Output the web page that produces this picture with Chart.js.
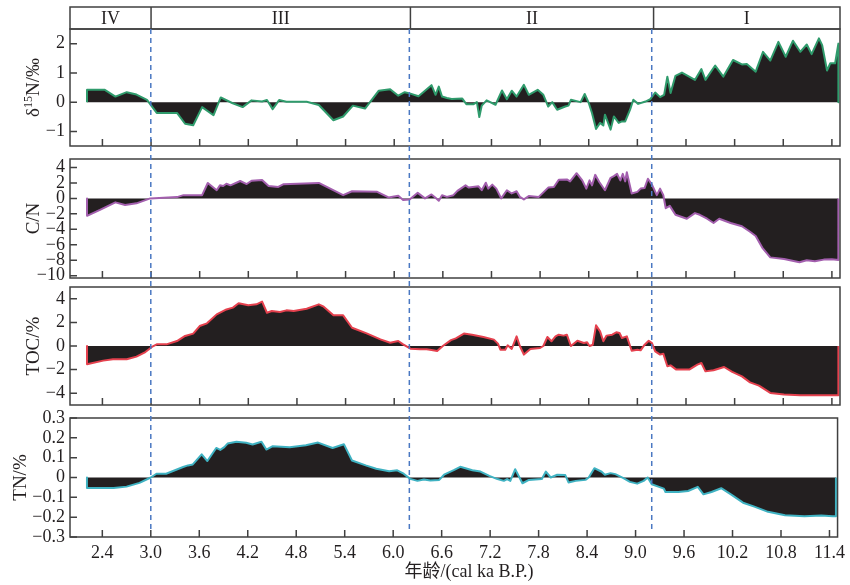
<!DOCTYPE html>
<html>
<head>
<meta charset="utf-8">
<title>δ15N C/N TOC TN</title>
<script src="https://cdn.jsdelivr.net/npm/chart.js@4.4.1/dist/chart.umd.min.js"></script>
<style>
    body { margin: 0; background: #fff; }
    #wrap { position: relative; width: 850px; height: 585px; }
    #wrap canvas { position: absolute; left: 0; top: 0; }
</style>
</head>
<body>
<div id="wrap">
    <canvas id="d15nCanvas" width="850" height="585"></canvas>
    <canvas id="cnCanvas" width="850" height="585"></canvas>
    <canvas id="tocCanvas" width="850" height="585"></canvas>
    <canvas id="tnCanvas" width="850" height="585"></canvas>
</div>
<script>
// x axis (age, cal ka B.P.)
const xTicks = [2.4, 3.0, 3.6, 4.2, 4.8, 5.4, 6.0, 6.6, 7.2, 7.8, 8.4, 9.0, 9.6, 10.2, 10.8, 11.4]
const zoneNames = ['IV', 'III', 'II', 'I']
const zoneEdges = [2.0, 3.0, 6.2, 9.2, 11.5]

// δ15N
const ageD15N = [
    2.21, 2.21, 2.43, 2.56, 2.70, 2.82, 2.95, 3.07, 3.32, 3.42,
    3.52, 3.63, 3.77, 3.86, 4.00, 4.13, 4.24, 4.37, 4.43, 4.50,
    4.58, 4.67, 4.92, 5.07, 5.25, 5.37, 5.49, 5.64, 5.81, 5.95,
    6.05, 6.13, 6.19, 6.30, 6.46, 6.51, 6.55, 6.59, 6.65, 6.71,
    6.84, 6.89, 6.98, 7.02, 7.05, 7.08, 7.14, 7.25, 7.33, 7.39,
    7.45, 7.51, 7.60, 7.66, 7.77, 7.84, 7.90, 7.95, 8.01, 8.11,
    8.15, 8.18, 8.30, 8.35, 8.40, 8.44, 8.49, 8.54, 8.58, 8.60,
    8.67, 8.71, 8.77, 8.81, 8.85, 8.91, 8.95, 9.01, 9.10, 9.16,
    9.22, 9.28, 9.33, 9.37, 9.41, 9.47, 9.55, 9.71, 9.79, 9.84,
    9.96, 10.06, 10.18, 10.29, 10.35, 10.46, 10.55, 10.64, 10.74, 10.83,
    10.92, 11.01, 11.09, 11.15, 11.24, 11.28, 11.34, 11.38, 11.44, 11.48,
    11.48
]
const d15N = [
    0, 0.42, 0.42, 0.19, 0.34, 0.26, 0.08, -0.37, -0.37, -0.74,
    -0.79, -0.17, -0.45, 0.16, -0.03, -0.17, 0.06, 0.02, 0.07, -0.24,
    0.07, 0.01, 0.01, -0.10, -0.62, -0.49, -0.12, -0.22, 0.39, 0.44,
    0.22, 0.34, 0.30, 0.20, 0.58, 0.25, 0.53, 0.19, 0.14, 0.11,
    0.12, -0.07, -0.07, 0, -0.51, -0.12, 0.06, -0.09, 0.40, 0.10,
    0.39, 0.19, 0.59, 0.25, 0.42, 0.25, -0.15, 0, -0.26, -0.15,
    -0.12, 0.08, 0, 0.28, -0.03, -0.37, -0.92, -0.71, -0.80, -0.43,
    -0.94, -0.49, -0.71, -0.66, -0.66, -0.26, 0.08, -0.06, 0.02, 0.10,
    0.33, 0.17, 0.25, 0.87, 0.31, 0.90, 1.01, 0.76, 1.13, 0.76,
    1.25, 0.87, 1.44, 1.29, 1.30, 1.04, 1.72, 1.42, 2.06, 1.55,
    2.10, 1.72, 1.97, 1.64, 2.18, 1.95, 1.08, 1.33, 1.33, 2.00,
    0
]
const d15NTicks = [-1, 0, 1, 2]

// C/N
const ageCN = [
    2.21, 2.21, 2.37, 2.56, 2.68, 2.82, 2.99, 3.32, 3.40, 3.63,
    3.70, 3.81, 3.85, 3.89, 3.93, 3.98, 4.10, 4.18, 4.24, 4.37,
    4.45, 4.57, 4.63, 5.07, 5.37, 5.48, 5.79, 5.93, 6.05, 6.11,
    6.19, 6.29, 6.38, 6.46, 6.51, 6.55, 6.59, 6.65, 6.73, 6.78,
    6.88, 6.92, 7.04, 7.08, 7.13, 7.16, 7.21, 7.26, 7.32, 7.39,
    7.45, 7.51, 7.55, 7.60, 7.66, 7.78, 7.90, 7.97, 8.03, 8.13,
    8.17, 8.25, 8.32, 8.37, 8.41, 8.44, 8.48, 8.53, 8.60, 8.67,
    8.71, 8.75, 8.79, 8.82, 8.85, 8.87, 8.93, 9.00, 9.04, 9.09,
    9.13, 9.18, 9.24, 9.28, 9.32, 9.35, 9.40, 9.47, 9.61, 9.71,
    9.77, 9.86, 9.94, 10.01, 10.15, 10.29, 10.39, 10.46, 10.54, 10.64,
    10.81, 11.00, 11.09, 11.19, 11.30, 11.40, 11.48, 11.48
]
const cn = [
    0, -2.25, -1.48, -0.51, -0.85, -0.64, 0, 0.17, 0.42, 0.42,
    2.0, 1.06, 1.69, 1.6, 1.9, 1.69, 2.25, 1.86, 2.29, 2.37,
    1.6, 1.48, 1.82, 2.0, 0.42, 0.93, 0.85, 0.13, 0.34, -0.21,
    -0.13, 0.72, 0, 0.51, 0.08, -0.3, 0.42, 0.2, 0.42, 0.97,
    1.69, 1.4, 1.57, 1.06, 2.03, 1.27, 1.78, 1.27, 0, 1.06,
    0.64, 0.93, 0.21, -0.13, 0.3, 0.17, 1.4, 1.48, 2.42, 2.46,
    2.2, 3.26, 2.33, 1.27, 2.33, 1.69, 3.05, 2.12, 1.06, 2.67,
    2.88, 3.18, 2.33, 3.18, 2.2, 3.39, 0.64, 0.85, 1.27, 1.36,
    2.54, 1.78, 0.42, 1.27, 0.42, -1.27, -0.97, -2.12, -2.63, -1.9,
    -2.12, -2.63, -3.18, -2.63, -3.18, -3.6, -4.32, -4.87, -6.36, -7.63,
    -7.84, -8.26, -8.0, -8.14, -7.92, -7.88, -7.97, 0
]
const cnTicks = [-10, -8, -6, -4, -2, 0, 2, 4]

// TOC (%)
const ageTOC = [
    2.21, 2.21, 2.41, 2.53, 2.70, 2.82, 2.93, 3.01, 3.07, 3.19,
    3.32, 3.42, 3.52, 3.60, 3.69, 3.81, 3.93, 4.01, 4.08, 4.20,
    4.30, 4.37, 4.43, 4.49, 4.59, 4.67, 4.76, 4.92, 5.07, 5.13,
    5.25, 5.37, 5.48, 5.66, 5.83, 5.95, 6.05, 6.11, 6.20, 6.32,
    6.40, 6.46, 6.53, 6.60, 6.70, 6.76, 6.86, 6.96, 7.10, 7.23,
    7.28, 7.31, 7.37, 7.40, 7.45, 7.51, 7.55, 7.60, 7.68, 7.80,
    7.84, 7.89, 7.94, 7.99, 8.03, 8.09, 8.13, 8.18, 8.26, 8.34,
    8.38, 8.41, 8.45, 8.49, 8.54, 8.58, 8.62, 8.69, 8.74, 8.78,
    8.81, 8.87, 8.93, 9.00, 9.04, 9.09, 9.14, 9.18, 9.22, 9.28,
    9.32, 9.37, 9.41, 9.48, 9.64, 9.74, 9.79, 9.84, 9.94, 10.07,
    10.17, 10.29, 10.39, 10.50, 10.64, 10.81, 11.01, 11.26, 11.48, 11.48
]
const toc = [
    0, -1.55, -1.24, -1.13, -1.13, -0.9, -0.51, -0.08, 0.14, 0.14,
    0.42, 0.85, 1.05, 1.69, 1.92, 2.68, 3.1, 3.25, 3.62, 3.45,
    3.53, 3.76, 2.82, 2.97, 2.88, 3.02, 2.97, 3.16, 3.53, 3.33,
    2.6, 2.6, 1.55, 1.07, 0.56, 0.28, 0.42, 0.14, -0.23, -0.28,
    -0.28, -0.34, -0.42, 0, 0.5, 0.65, 1.05, 0.96, 0.76, 0.54,
    0.2, -0.31, -0.31, 0.06, -0.25, 0.82, 0, -0.73, -0.25, -0.17,
    0, 0.76, 0.4, 0.82, 0.96, 0.88, 0.96, 0, 0.45, 0.25,
    0.31, 0, 0.11, 1.75, 1.24, 0.4, 0.88, 0.96, 1.16, 1.1,
    0.68, 0.82, -0.4, -0.31, -0.37, 0.11, 0.45, 0.25, -0.45, -0.73,
    -0.65, -1.72, -1.64, -2.0, -2.0, -1.58, -1.44, -2.15, -2.06, -1.78,
    -2.2, -2.57, -3.08, -3.36, -3.98, -4.12, -4.18, -4.18, -4.18, 0
]
const tocTicks = [-4, -2, 0, 2, 4]

// TN (%)
const ageTN = [
    2.21, 2.21, 2.54, 2.70, 2.86, 3.00, 3.07, 3.19, 3.40, 3.46,
    3.52, 3.63, 3.70, 3.81, 3.86, 3.91, 3.95, 4.06, 4.18, 4.26,
    4.37, 4.43, 4.51, 4.72, 4.92, 5.07, 5.25, 5.39, 5.49, 5.66,
    5.79, 5.95, 6.05, 6.13, 6.21, 6.30, 6.38, 6.46, 6.57, 6.63,
    6.71, 6.75, 6.83, 6.98, 7.08, 7.19, 7.29, 7.37, 7.41, 7.45,
    7.51, 7.60, 7.68, 7.84, 7.89, 7.95, 8.03, 8.13, 8.17, 8.26,
    8.38, 8.42, 8.49, 8.58, 8.62, 8.69, 8.75, 8.85, 8.93, 9.02,
    9.10, 9.15, 9.20, 9.29, 9.35, 9.37, 9.53, 9.65, 9.77, 9.84,
    9.94, 10.06, 10.18, 10.33, 10.47, 10.64, 10.85, 11.09, 11.30, 11.44,
    11.48, 11.48
]
const tn = [
    0, -0.053, -0.053, -0.046, -0.027, 0, 0.019, 0.019, 0.053, 0.061,
    0.066, 0.117, 0.083, 0.149, 0.139, 0.153, 0.171, 0.18, 0.175, 0.166,
    0.18, 0.141, 0.158, 0.153, 0.163, 0.176, 0.149, 0.168, 0.086, 0.061,
    0.044, 0.032, 0.036, 0.019, -0.007, -0.017, -0.01, -0.015, -0.012, 0.014,
    0.03, 0.037, 0.054, 0.037, 0.03, 0.008, -0.008, -0.017, -0.008, -0.017,
    0.042, -0.029, -0.012, -0.008, 0.03, 0, 0.014, 0.012, -0.025, -0.017,
    -0.012, 0, 0.047, 0.029, 0.014, 0.022, 0.017, -0.003, -0.022, -0.031,
    -0.017, 0, -0.034, -0.047, -0.056, -0.073, -0.073, -0.068, -0.047, -0.085,
    -0.073, -0.054, -0.085, -0.127, -0.147, -0.173, -0.19, -0.195, -0.192, -0.195,
    -0.195, 0
]
const tnTicks = [-0.3, -0.2, -0.1, 0, 0.1, 0.2, 0.3]

const serif = '"Liberation Serif", "DejaVu Serif", serif'
const ink = '#231f20'
const frameColor = '#404040'
const dashTop = 29
const dashBottom = 531

const panels = [
    {
        canvas: '#d15nCanvas', ages: ageD15N, values: d15N, yTicks: d15NTicks,
        min: -1.5, max: 2.5, color: '#2f9b6c', top: 29, bottom: 146,
        title: [['δ', 19, 0], ['15', 12, -7], ['N/‰', 19, 0]], titleX: 33,
        fmt: v => String(v)
    },
    {
        canvas: '#cnCanvas', ages: ageCN, values: cn, yTicks: cnTicks,
        min: -10.3, max: 5.1, color: '#a35fae', top: 159, bottom: 278,
        title: [['C/N', 19, 0]], titleX: 33,
        fmt: v => String(v)
    },
    {
        canvas: '#tocCanvas', ages: ageTOC, values: toc, yTicks: tocTicks,
        min: -5, max: 5, color: '#e5414e', top: 287, bottom: 405,
        title: [['TOC/%', 19, 0]], titleX: 33,
        fmt: v => String(v)
    },
    {
        canvas: '#tnCanvas', ages: ageTN, values: tn, yTicks: tnTicks,
        min: -0.3, max: 0.3, color: '#3fb2c2', top: 418, bottom: 537,
        title: [['TN/%', 19, 0]], titleX: 20,
        fmt: v => v === 0 ? '0' : v.toFixed(1)
    }
]

// frame, inward ticks and the rotated y title of one panel
const panelDeco = {
    id: 'panelDeco',
    afterDatasetsDraw(chart, args, opts) {
        const { ctx, chartArea: a } = chart
        const x = chart.scales.x
        const y = chart.scales.y
        ctx.save()
        ctx.strokeStyle = frameColor
        ctx.lineWidth = 1.5
        ctx.strokeRect(a.left, a.top, a.right - a.left, a.bottom - a.top)

        ctx.beginPath()
        xTicks.forEach(v => {
            const px = x.getPixelForValue(v)
            ctx.moveTo(px, a.bottom)
            ctx.lineTo(px, a.bottom - 7)
        })
        opts.yTicks.forEach(v => {
            const py = y.getPixelForValue(v)
            ctx.moveTo(a.left, py)
            ctx.lineTo(a.left + 7, py)
        })
        ctx.stroke()

        // y title, rotated
        ctx.translate(opts.titleX, (a.top + a.bottom) / 2)
        ctx.rotate(-Math.PI / 2)
        ctx.fillStyle = ink
        ctx.textBaseline = 'alphabetic'
        ctx.textAlign = 'left'
        let total = 0
        opts.title.forEach(([t, size]) => {
            ctx.font = `${size}px ${serif}`
            total += ctx.measureText(t).width
        })
        let xs = -total / 2
        opts.title.forEach(([t, size, rise]) => {
            ctx.font = `${size}px ${serif}`
            ctx.fillText(t, xs, 6 + rise)
            xs += ctx.measureText(t).width
        })
        ctx.restore()
    }
}

// zone band on top of the first panel
const zoneBand = {
    id: 'zoneBand',
    afterDraw(chart) {
        const { ctx, chartArea: a } = chart
        const x = chart.scales.x
        const top = 7
        ctx.save()
        ctx.strokeStyle = frameColor
        ctx.lineWidth = 1.5
        ctx.strokeRect(a.left, top, a.right - a.left, a.top - top)
        ctx.beginPath()
        zoneEdges.slice(1, -1).forEach(v => {
            const px = x.getPixelForValue(v)
            ctx.moveTo(px, top)
            ctx.lineTo(px, a.top)
        })
        ctx.stroke()
        ctx.fillStyle = ink
        ctx.font = `18px ${serif}`
        ctx.textAlign = 'center'
        ctx.textBaseline = 'middle'
        zoneNames.forEach((name, i) => {
            const px = (x.getPixelForValue(zoneEdges[i]) + x.getPixelForValue(zoneEdges[i + 1])) / 2
            ctx.fillText(name, px, (top + a.top) / 2 + 1)
        })
        ctx.restore()
    }
}

// dashed zone boundaries across all panels + x title (drawn by the last chart)
const zoneLines = {
    id: 'zoneLines',
    afterDraw(chart) {
        const { ctx } = chart
        const x = chart.scales.x
        ctx.save()
        ctx.strokeStyle = '#4a78c2'
        ctx.lineWidth = 1.5
        ctx.setLineDash([5, 4])
        ctx.beginPath()
        zoneEdges.slice(1, -1).forEach(v => {
            const px = x.getPixelForValue(v)
            ctx.moveTo(px, dashTop)
            ctx.lineTo(px, dashBottom)
        })
        ctx.stroke()
        ctx.setLineDash([])
        ctx.fillStyle = ink
        ctx.font = `18px ${serif}, "Noto Sans CJK SC"`
        ctx.textAlign = 'center'
        ctx.textBaseline = 'middle'
        ctx.fillText('年龄/(cal ka B.P.)', 469, 572)
        ctx.restore()
    }
}

function panelInit(p, i) {
    const isLast = i === panels.length - 1
    const xh = isLast ? 30 : 0
    const plugins = [panelDeco]
    if (i === 0) plugins.push(zoneBand)
    if (isLast) plugins.push(zoneLines)

    const config = {
        type: 'line',
        data: {
            datasets: [{
                data: p.ages.map((a, k) => ({ x: a, y: p.values[k] })),
                borderColor: p.color,
                borderWidth: 2,
                backgroundColor: ink,
                fill: 'origin',
                pointRadius: 0,
                tension: 0,
                borderJoinStyle: 'round'
            }]
        },
        options: {
            responsive: false,
            animation: false,
            events: [],
            layout: {
                padding: { left: 20, right: 10, top: p.top, bottom: 585 - p.bottom - xh }
            },
            plugins: {
                legend: { display: false },
                tooltip: { enabled: false },
                panelDeco: { yTicks: p.yTicks, title: p.title, titleX: p.titleX }
            },
            scales: {
                x: {
                    type: 'linear',
                    min: zoneEdges[0],
                    max: zoneEdges[zoneEdges.length - 1],
                    afterBuildTicks: s => { s.ticks = xTicks.map(v => ({ value: v })) },
                    afterFit: s => { s.height = xh },
                    grid: { display: false, drawTicks: false },
                    border: { display: false },
                    ticks: {
                        display: isLast,
                        autoSkip: false,
                        maxRotation: 0,
                        padding: 5,
                        color: ink,
                        font: { family: serif, size: 18 },
                        callback: v => v.toFixed(1)
                    }
                },
                y: {
                    min: p.min,
                    max: p.max,
                    afterBuildTicks: s => { s.ticks = p.yTicks.map(v => ({ value: v })) },
                    afterFit: s => { s.width = 50 },
                    grid: { display: false, drawTicks: false },
                    border: { display: false },
                    ticks: {
                        autoSkip: false,
                        padding: 5,
                        color: ink,
                        font: { family: serif, size: 18 },
                        callback: v => p.fmt(v).replace('-', '−')
                    }
                }
            }
        },
        plugins: plugins
    }
    return new Chart(document.querySelector(p.canvas), config)
}

panels.forEach(panelInit)
</script>
</body>
</html>
